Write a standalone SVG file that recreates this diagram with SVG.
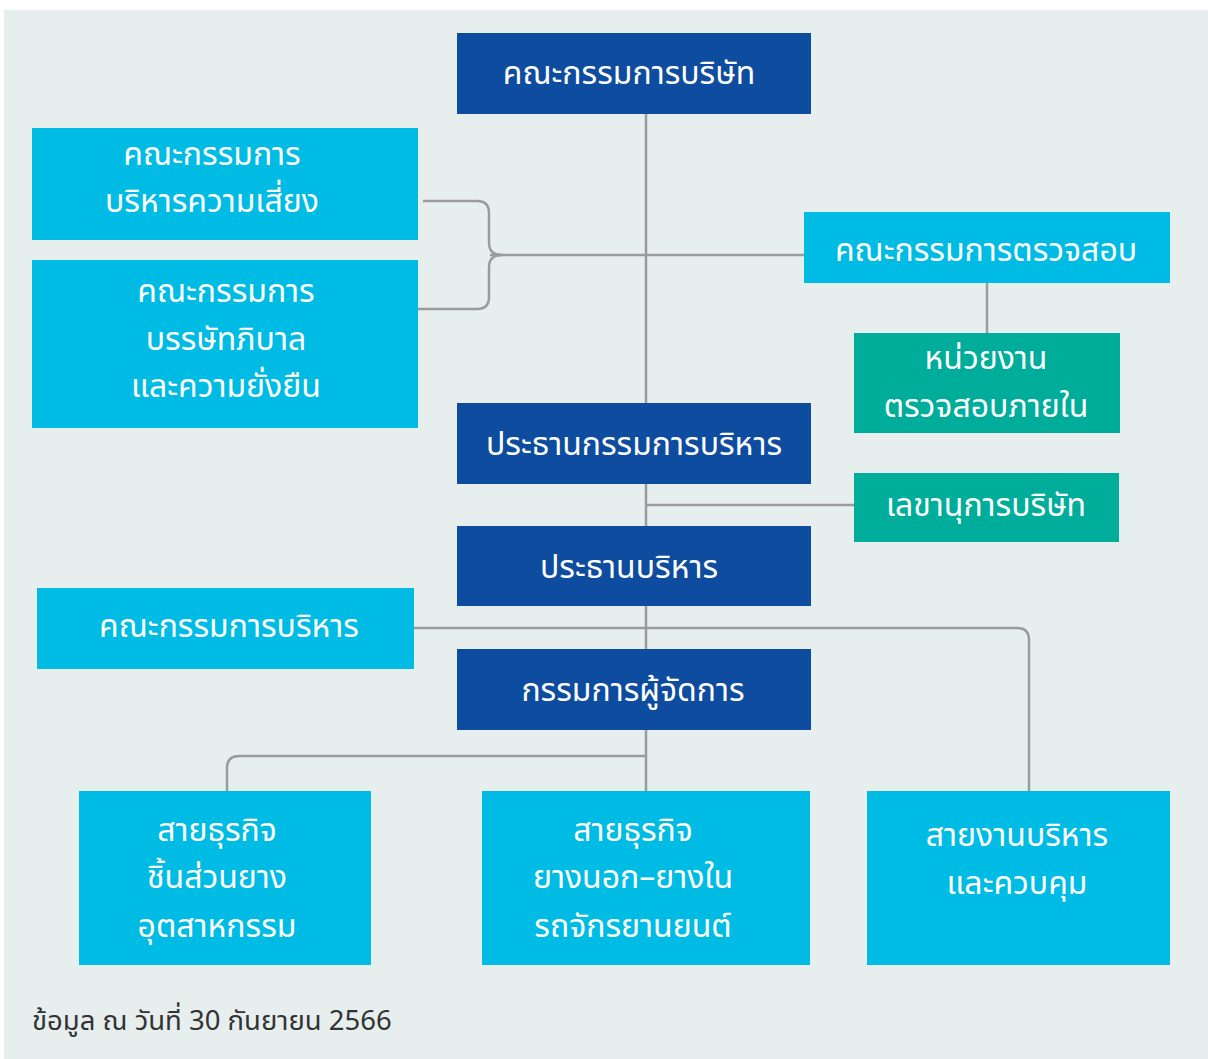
<svg xmlns="http://www.w3.org/2000/svg" width="1208" height="1059" viewBox="0 0 1208 1059">
<style>
.dk{fill:#0d4c9f}.cy{fill:#00bce4}.tl{fill:#00ad9a}
text{font-family:"Noto Sans Thai","Noto Sans","DejaVu Sans",sans-serif;font-size:32px;fill:#fff;text-anchor:middle}
.ft{fill:#333;text-anchor:start;font-size:27.5px}
.c{fill:none;stroke:#9a9b9d;stroke-width:2.5}
</style>
<rect x="4" y="10" width="1204" height="1049" fill="#e6efee"/>
<g id="connectors">
<path class="c" d="M646 114V791"/>
<path class="c" d="M490 255H804"/>
<path class="c" d="M423 201H477Q489 201 489 213V243Q489 255 502 255"/>
<path class="c" d="M418 309H477Q489 309 489 297V267Q489 255 502 255"/>
<path class="c" d="M987 283V333"/>
<path class="c" d="M646 505H854"/>
<path class="c" d="M414 628H1017Q1029 628 1029 640V791"/>
<path class="c" d="M646 756H239Q227 756 227 768V791"/>
</g>
<g id="n1"><rect class="dk" x="457" y="33" width="354" height="81"/><text x="629" y="84">คณะกรรมการบริษัท</text></g>
<g id="n2"><rect class="cy" x="32" y="128" width="386" height="112"/><text x="212" y="165">คณะกรรมการ</text><text x="212" y="212">บริหารความเสี่ยง</text></g>
<g id="n3"><rect class="cy" x="32" y="260" width="386" height="168"/><text x="226" y="302">คณะกรรมการ</text><text x="226" y="350">บรรษัทภิบาล</text><text x="226" y="397">และความยั่งยืน</text></g>
<g id="n4"><rect class="cy" x="804" y="212" width="366" height="71"/><text x="986" y="261">คณะกรรมการตรวจสอบ</text></g>
<g id="n5"><rect class="tl" x="854" y="333" width="266" height="100"/><text x="986" y="369">หน่วยงาน</text><text x="986" y="417">ตรวจสอบภายใน</text></g>
<g id="n6"><rect class="dk" x="457" y="403" width="354" height="81"/><text x="634" y="455">ประธานกรรมการบริหาร</text></g>
<g id="n7"><rect class="tl" x="854" y="473" width="265" height="69"/><text x="986" y="516">เลขานุการบริษัท</text></g>
<g id="n8"><rect class="dk" x="457" y="526" width="354" height="80"/><text x="629" y="578">ประธานบริหาร</text></g>
<g id="n9"><rect class="cy" x="37" y="588" width="377" height="81"/><text x="229" y="637">คณะกรรมการบริหาร</text></g>
<g id="n10"><rect class="dk" x="457" y="649" width="354" height="81"/><text x="633" y="701">กรรมการผู้จัดการ</text></g>
<g id="n11"><rect class="cy" x="79" y="791" width="292" height="174"/><text x="217" y="841">สายธุรกิจ</text><text x="217" y="888">ชิ้นส่วนยาง</text><text x="217" y="937">อุตสาหกรรม</text></g>
<g id="n12"><rect class="cy" x="482" y="791" width="328" height="174"/><text x="633" y="841">สายธุรกิจ</text><text x="633" y="888">ยางนอก–ยางใน</text><text x="633" y="937">รถจักรยานยนต์</text></g>
<g id="n13"><rect class="cy" x="867" y="791" width="303" height="174"/><text x="1017" y="846">สายงานบริหาร</text><text x="1017" y="894">และควบคุม</text></g>
<text class="ft" x="32" y="1030">ข้อมูล ณ วันที่ 30 กันยายน 2566</text>
</svg>
